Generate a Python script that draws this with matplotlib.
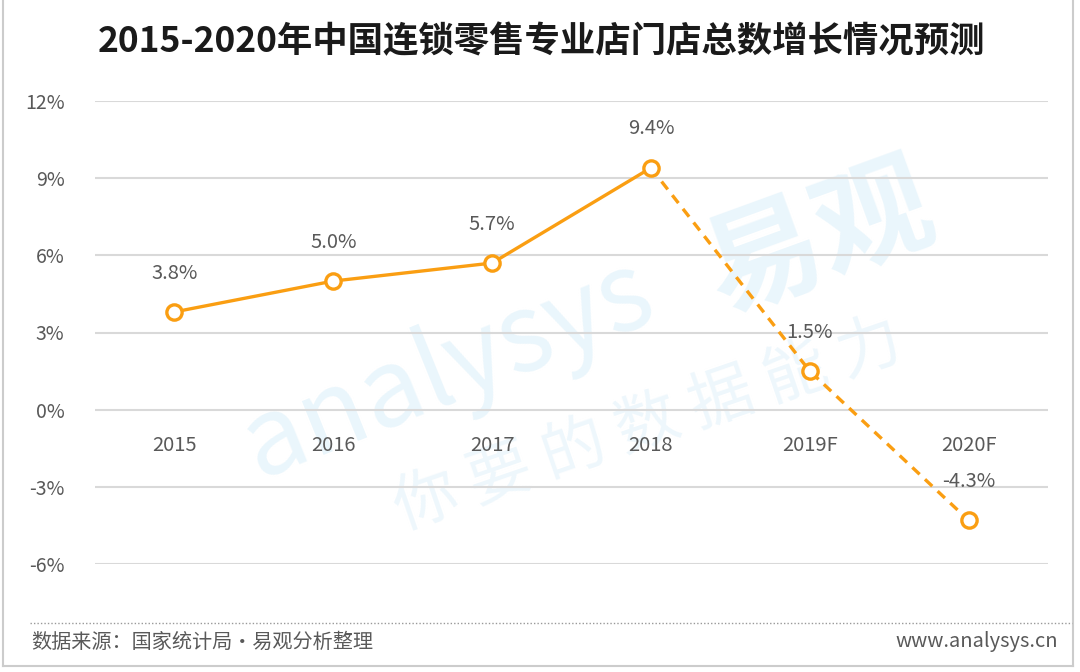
import matplotlib.pyplot as plt

plt.rcParams['font.family'] = ['Noto Sans CJK SC', 'DejaVu Sans']

# 数据
years = ['2015', '2016', '2017', '2018', '2019F', '2020F']
growth = [3.8, 5.0, 5.7, 9.4, 1.5, -4.3]
labels = ['3.8%', '5.0%', '5.7%', '9.4%', '1.5%', '-4.3%']
yticks = [-6, -3, 0, 3, 6, 9, 12]
n_actual = 4  # 2015-2018 实际值, 后面是预测

ORANGE = '#fa9e12'
GRIS = '#595959'
GRID = '#d9d9d9'

fig = plt.figure(figsize=(10.8, 6.72), dpi=100)
fig.patch.set_facecolor('white')

# 边框
fig.add_artist(plt.Line2D([3 / 1080, 3 / 1080], [6 / 672, 1], color='#cccccc', lw=1.5))
fig.add_artist(plt.Line2D([1073 / 1080, 1073 / 1080], [6 / 672, 1], color='#cccccc', lw=1.5))
fig.add_artist(plt.Line2D([3 / 1080, 1073 / 1080], [6 / 672, 6 / 672], color='#cccccc', lw=1.5))

# 标题
fig.text(541 / 1080, 1 - 42 / 672, '2015-2020年中国连锁零售专业店门店总数增长情况预测',
         ha='center', va='center', fontsize=25.5, fontweight='bold', color='#1a1a1a')

ax = fig.add_axes([95 / 1080, 1 - 564 / 672, 953 / 1080, 463 / 672])
ax.set_xlim(0, 6)
ax.set_ylim(-6, 12)
for s in ax.spines.values():
    s.set_visible(False)
ax.set_xticks([])
ax.set_yticks(yticks)
ax.set_yticklabels([f'{v}%' for v in yticks], fontsize=14, color=GRIS)
ax.tick_params(axis='y', length=0, pad=22)
for v in yticks:
    ax.axhline(v, color=GRID, lw=1.5, zorder=1)

# 水印
ax.text(0.37, 0.42, 'analysys', transform=ax.transAxes, fontsize=78, color='#eaf6fc',
        rotation=22, ha='center', va='center', zorder=0)
ax.text(0.76, 0.70, '易观', transform=ax.transAxes, fontsize=84, color='#eaf6fc',
        rotation=20, ha='center', va='center', zorder=0, fontweight='bold')
ax.text(0.58, 0.30, '你 要 的 数 据 能 力', transform=ax.transAxes, fontsize=46, color='#eef7fc',
        rotation=19, ha='center', va='center', zorder=0)

x = [i + 0.5 for i in range(len(years))]

ax.plot(x[:n_actual], growth[:n_actual], color=ORANGE, lw=2.4, zorder=3, solid_capstyle='round')
ax.plot(x[n_actual - 1:], growth[n_actual - 1:], color=ORANGE, lw=2.4, ls=(0, (3, 2.2)), zorder=3)
ax.plot(x, growth, 'o', ms=11, mfc='white', mec=ORANGE, mew=2.4, zorder=4, clip_on=False)

for xi, v, lab in zip(x, growth, labels):
    ax.annotate(lab, (xi, v), xytext=(0, 28), textcoords='offset points',
                ha='center', va='center', fontsize=14.5, color=GRIS, zorder=5)

for xi, yr in zip(x, years):
    ax.text(xi, -1.4, yr, ha='center', va='center', fontsize=14.5, color=GRIS, zorder=5)

# 分隔线 + 脚注
fig.add_artist(plt.Line2D([30 / 1080, 1072 / 1080], [1 - 623 / 672, 1 - 623 / 672],
                          color='#999999', lw=1, ls=(0, (1, 1.5))))
fig.text(31 / 1080, 1 - 642 / 672, '数据来源：国家统计局•易观分析整理', ha='left', va='center',
         fontsize=14.5, color=GRIS)
fig.text(1058 / 1080, 1 - 642 / 672, 'www.analysys.cn', ha='right', va='center',
         fontsize=14.5, color=GRIS)

fig.savefig('out.png', dpi=100, facecolor='white')
